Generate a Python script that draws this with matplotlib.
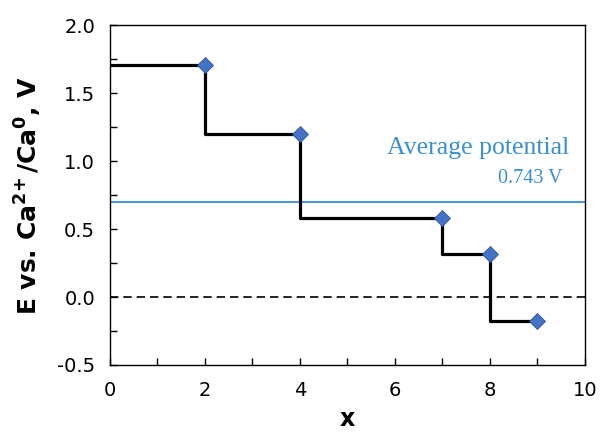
"""Step potential profile of Ca insertion."""

import matplotlib

matplotlib.use("Agg")
import matplotlib.pyplot as plt
from matplotlib.ticker import MultipleLocator

# step ends (x) and plateau potentials (V)
x_end = [2, 4, 7, 8, 9]
levels = [1.71, 1.20, 0.58, 0.32, -0.18]
avg_line = 0.70
avg_label = "0.743 V"

plt.rcParams["font.family"] = ["DejaVu Sans"]
plt.rcParams["mathtext.fontset"] = "custom"
plt.rcParams["mathtext.rm"] = "DejaVu Sans:bold"
plt.rcParams["mathtext.bf"] = "DejaVu Sans:bold"

fig = plt.figure(figsize=(6, 4.34), dpi=100)
ax = fig.add_axes([0.183, 0.159, 0.792, 0.783])

ax.axhline(0, color="black", lw=1.2, ls=(0, (5, 3)))
ax.axhline(avg_line, color="#3b8fd6", lw=1.3)
ax.step([0] + x_end, [levels[0]] + levels, where="pre", color="black", lw=2.3)
ax.plot(x_end, levels, "D", color="#4472c4", mec="#2f5597", mew=0.6, ms=8)

serif = ["Liberation Serif", "DejaVu Serif"]
ax.text(7.75, 1.10, "Average potential", color="#3b8fd6", fontsize=18.5,
        family=serif, ha="center", va="center")
ax.text(9.52, 0.875, avg_label, color="#3b8fd6", fontsize=14.5,
        family=serif, ha="right", va="center")

ax.set_xlim(0, 10)
ax.set_ylim(-0.5, 2.0)
ax.xaxis.set_major_locator(MultipleLocator(2))
ax.xaxis.set_minor_locator(MultipleLocator(1))
ax.yaxis.set_major_locator(MultipleLocator(0.5))
ax.yaxis.set_minor_locator(MultipleLocator(0.25))
ax.yaxis.set_major_formatter(lambda v, p: f"{v:.1f}")
ax.tick_params(which="both", direction="in", length=5, width=1, labelsize=14)
ax.tick_params(axis="x", pad=11.5)
ax.tick_params(axis="y", pad=10.5)
for s in ax.spines.values():
    s.set_linewidth(1)

ax.set_xlabel("x", fontsize=17, fontweight="bold")
ax.set_ylabel(r"E vs. Ca$^{2\!+}$/Ca$^{0}$, V", fontsize=18, fontweight="bold")
ax.xaxis.set_label_coords(0.5, -0.125)
ax.yaxis.set_label_coords(-0.139, 0.5)

fig.savefig("out.png", dpi=100)
